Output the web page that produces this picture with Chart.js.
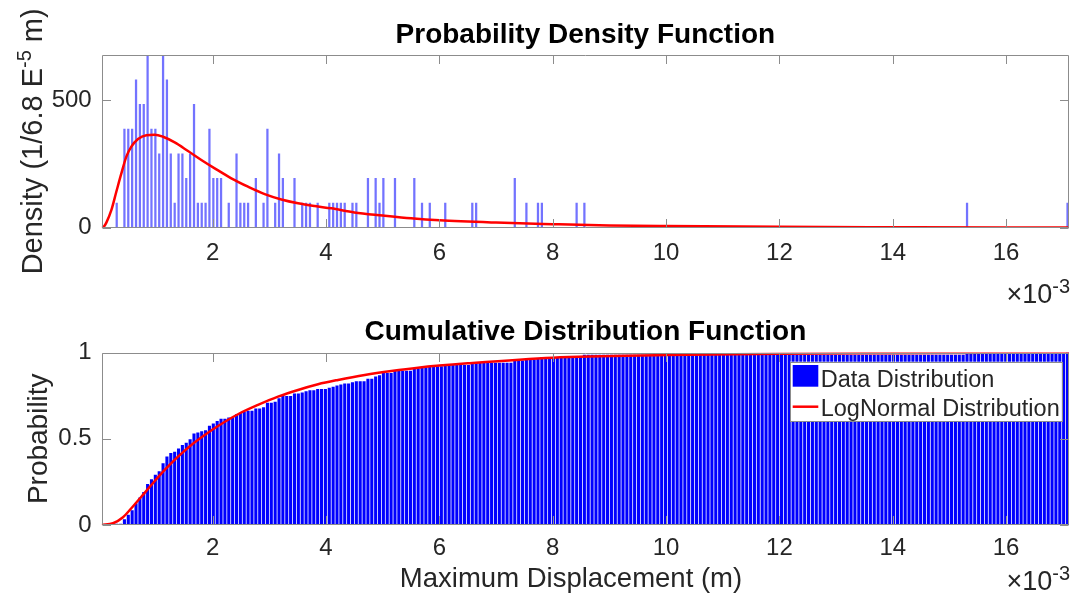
<!DOCTYPE html>
<html><head><meta charset="utf-8">
<script src="https://cdn.jsdelivr.net/npm/chart.js@4.4.1/dist/chart.umd.min.js"></script>
<style>
html,body{margin:0;padding:0;background:#fff;width:1077px;height:606px;overflow:hidden;}
canvas{position:absolute;left:0;}
#pdf{top:0;z-index:2;}
#cdf{top:300px;z-index:1;}
</style></head><body>
<canvas id="pdf" width="1077" height="320"></canvas>
<canvas id="cdf" width="1077" height="306"></canvas>
<script>
// ---------- data (x in units of 1e-3 m) ----------
const xLimits = [0.042, 17.11];
const xTickValues = [2, 4, 6, 8, 10, 12, 14, 16];
const pdfYMax = 678;
const pdfYTicks = [0, 500];
const cdfYTicks = [0, 0.5, 1];

const pdfBarX = [
  0.307,0.443,0.511,0.579,0.648,0.716,0.784,0.852,0.920,0.989,
  1.057,1.125,1.193,1.261,1.330,1.398,1.466,1.534,1.602,1.671,
  1.739,1.807,1.875,1.943,2.012,2.080,2.148,2.284,2.421,2.489,
  2.557,2.625,2.762,2.898,2.966,3.103,3.171,3.239,3.444,3.580,
  3.648,3.717,3.853,4.058,4.126,4.194,4.262,4.330,4.467,4.535,
  4.740,4.876,4.944,5.012,5.217,5.558,5.694,5.831,6.104,6.581,
  6.649,7.331,7.536,7.740,7.809,8.422,8.559,15.311,17.084
];
const pdfDensity = [
  97,387,387,387,581,484,484,678,387,387,
  290,678,581,290,97,290,290,194,290,484,
  97,97,97,387,194,194,194,97,290,97,
  97,97,194,97,387,97,290,194,194,97,
  97,97,97,97,97,97,97,97,97,97,
  194,194,97,194,194,194,97,97,97,97,
  97,194,97,97,97,97,97,97,97
];
const pdfFitX = [0.042,0.08,0.124,0.212,0.300,0.389,0.477,0.565,0.683,0.830,0.977,1.124,1.330,1.565,1.800,2.036,2.329,2.624,2.918,3.212,3.506,3.801,4.094,4.5,5.0,5.5,6.0,7.0,8.0,9.0,10.0,12.0,14.0,16.0,17.11];
const pdfFitY = [0,4,20,69,141,213,279,318,348,363,365,357,335,301,266,233,194,161,132,111,96,85,76,60,48,37,29,20,14,9,6.5,3.5,2,1,0.8];

const cdfBinStart = 0.3065;
const cdfBinWidth = 0.0682;
const cdfValues = [
  0.007,0.007,0.033,0.060,0.086,0.126,0.159,0.192,0.238,0.265,
  0.291,0.311,0.358,0.397,0.417,0.424,0.444,0.464,0.477,0.497,
  0.530,0.536,0.543,0.550,0.576,0.589,0.603,0.616,0.616,0.623,
  0.623,0.642,0.649,0.656,0.662,0.662,0.675,0.675,0.682,0.709,
  0.709,0.715,0.735,0.748,0.748,0.748,0.762,0.762,0.768,0.775,
  0.781,0.781,0.788,0.788,0.788,0.795,0.801,0.808,0.815,0.821,
  0.821,0.828,0.834,0.834,0.834,0.848,0.848,0.861,0.868,0.881,
  0.881,0.881,0.894,0.894,0.894,0.894,0.894,0.907,0.907,0.914,
  0.914,0.921,0.921,0.921,0.921,0.927,0.927,0.927,0.927,0.927,
  0.927,0.927,0.934,0.940,0.940,0.940,0.940,0.940,0.940,0.940,
  0.940,0.940,0.940,0.954,0.954,0.954,0.960,0.960,0.960,0.967,
  0.974,0.974,0.974,0.974,0.974,0.974,0.974,0.974,0.974,0.980,
  0.980,0.987,0.987,0.987,0.987,0.987,0.987,0.987,0.987,0.987,
  0.987,0.987,0.987,0.987,0.987,0.987,0.987,0.987,0.987,0.987,
  0.987,0.987,0.987,0.987,0.987,0.987,0.987,0.987,0.987,0.987,
  0.987,0.987,0.987,0.987,0.987,0.987,0.987,0.987,0.987,0.987,
  0.987,0.987,0.987,0.987,0.987,0.987,0.987,0.987,0.987,0.987,
  0.987,0.987,0.987,0.987,0.987,0.987,0.987,0.987,0.987,0.987,
  0.987,0.987,0.987,0.987,0.987,0.987,0.987,0.987,0.987,0.987,
  0.987,0.987,0.987,0.987,0.987,0.987,0.987,0.987,0.987,0.987,
  0.987,0.987,0.987,0.987,0.987,0.987,0.987,0.987,0.987,0.987,
  0.987,0.987,0.987,0.987,0.987,0.987,0.987,0.987,0.987,0.987,
  0.993,0.993,0.993,0.993,0.993,0.993,0.993,0.993,0.993,0.993,
  0.993,0.993,0.993,0.993,0.993,0.993,0.993,0.993,0.993,0.993,
  0.993,0.993,0.993,0.993,0.993,0.993,1.000
];
const cdfFitX = [0.042,0.242,0.418,0.565,0.741,0.918,1.154,1.389,1.623,1.860,2.095,2.447,2.800,3.153,3.506,3.859,4.212,4.683,5.153,5.624,6.5,8.0,10.0,12.0,14.0,17.11];
const cdfFitY = [0,0.010,0.045,0.097,0.164,0.232,0.319,0.396,0.464,0.522,0.574,0.642,0.696,0.744,0.783,0.816,0.841,0.870,0.893,0.912,0.937,0.970,0.985,0.993,0.996,0.999];

const legendLabels = ['Data Distribution', 'LogNormal Distribution'];

// ---------- styling ----------
const FAM = "'Liberation Sans', Arial, Helvetica, sans-serif";
const TXT = '#262626';
const AXC = '#8c8c8c';

function drawSegments(ctx, segs, align) {
  let total = 0;
  segs.forEach(s => { ctx.font = (s.bold ? 'bold ' : '') + s.size + 'px ' + FAM; s.w = ctx.measureText(s.t).width; total += s.w; });
  let x = align === 'right' ? -total : (align === 'center' ? -total / 2 : 0);
  segs.forEach(s => {
    ctx.font = (s.bold ? 'bold ' : '') + s.size + 'px ' + FAM;
    ctx.fillText(s.t, x, -(s.rise || 0));
    x += s.w;
  });
}

const figPlugin = {
  id: 'fig',
  afterDatasetsDraw(chart, args, o) {
    const {ctx, chartArea: a, scales} = chart;
    ctx.save();
    ctx.strokeStyle = AXC; ctx.lineWidth = 1;
    const L = Math.round(a.left) + 0.5, R = Math.round(a.right) - 0.5;
    const T = Math.round(a.top) + 0.5, B = Math.round(a.bottom) - 0.5;
    ctx.beginPath();
    ctx.rect(L, T, R - L, B - T);
    const tl = 8.5;
    scales.x.ticks.forEach(t => {
      const px = Math.round(scales.x.getPixelForValue(t.value)) + 0.5;
      ctx.moveTo(px, B); ctx.lineTo(px, B - tl);
      ctx.moveTo(px, T); ctx.lineTo(px, T + tl);
    });
    scales.y.ticks.forEach(t => {
      const py = Math.round(scales.y.getPixelForValue(t.value)) + 0.5;
      ctx.moveTo(L, py); ctx.lineTo(L + tl, py);
      ctx.moveTo(R, py); ctx.lineTo(R - tl, py);
    });
    ctx.stroke();
    ctx.restore();
  },
  afterDraw(chart, args, o) {
    const {ctx, chartArea: a} = chart;
    ctx.save();
    ctx.textBaseline = 'alphabetic';
    ctx.fillStyle = '#000';
    ctx.font = 'bold 28px ' + FAM;
    ctx.textAlign = 'center';
    ctx.fillText(o.title, (a.left + a.right) / 2, a.top - o.titleGap);
    ctx.textAlign = 'left';
    ctx.fillStyle = TXT;
    ctx.save();
    ctx.translate(o.yLabelX, (a.top + a.bottom) / 2);
    ctx.rotate(-Math.PI / 2);
    drawSegments(ctx, o.yLabel, 'center');
    ctx.restore();
    if (o.xLabel) {
      ctx.save();
      ctx.translate(o.xLabelX, a.bottom + o.xLabelDy);
      drawSegments(ctx, [{t: o.xLabel, size: 27.5}], 'center');
      ctx.restore();
    }
    ctx.save();
    ctx.translate(a.right + 1, a.bottom + o.expDy);
    drawSegments(ctx, [{t: '\u00d710', size: 27}, {t: '-3', size: 20, rise: 10}], 'right');
    ctx.restore();
    if (o.legend) {
      const lx = a.right - 279, ly = a.top + 9.2, lw = 271.7, lh = 59.3;
      ctx.fillStyle = '#fff';
      ctx.fillRect(lx, ly, lw, lh);
      ctx.strokeStyle = AXC; ctx.lineWidth = 1;
      ctx.strokeRect(Math.round(lx) + 0.5, Math.round(ly) + 0.5, Math.round(lw), Math.round(lh));
      const ds = chart.data.datasets;
      ctx.fillStyle = '#0000ff';
      ctx.fillRect(lx + 2.7, ly + 3.3, 25.6, 21.7);
      ctx.strokeStyle = ds[1].borderColor; ctx.lineWidth = 2.5;
      ctx.beginPath(); ctx.moveTo(lx + 2.7, ly + 45); ctx.lineTo(lx + 28.3, ly + 45); ctx.stroke();
      ctx.fillStyle = TXT;
      ctx.font = '23.5px ' + FAM;
      ctx.fillText(ds[0].label, lx + 30.7, ly + 25);
      ctx.fillText(ds[1].label, lx + 30.7, ly + 54.3);
    }
    ctx.restore();
  }
};

const tickFmt = v => String(v);

function xScale(h, pad) {
  return {
    type: 'linear', min: xLimits[0], max: xLimits[1], offset: false,
    grid: {display: false, drawTicks: false, offset: false}, border: {display: false},
    afterBuildTicks: s => { s.ticks = xTickValues.map(v => ({value: v})); },
    afterFit: s => { s.height = h; },
    ticks: {font: {family: FAM, size: 24}, color: TXT, padding: pad, maxRotation: 0, minRotation: 0, autoSkip: false, callback: tickFmt}
  };
}
function yScale(max, tickVals) {
  return {
    type: 'linear', min: 0, max: max,
    grid: {display: false, drawTicks: false}, border: {display: false},
    afterBuildTicks: s => { s.ticks = tickVals.map(v => ({value: v})); },
    afterFit: s => { s.width = 101.7; },
    ticks: {font: {family: FAM, size: 24}, color: TXT, padding: 10, callback: tickFmt}
  };
}

new Chart(document.getElementById('pdf'), {
  type: 'bar',
  data: {datasets: [
    {type: 'bar', label: legendLabels[0], data: pdfBarX.map((x, i) => ({x: x, y: pdfDensity[i]})),
     backgroundColor: 'rgba(0,0,255,0.55)', borderWidth: 0, barThickness: 1.6, order: 2},
    {type: 'line', label: legendLabels[1], data: pdfFitX.map((x, i) => ({x: x, y: pdfFitY[i]})),
     borderColor: '#ff0000', borderWidth: 2.5, pointRadius: 0, fill: false, cubicInterpolationMode: 'monotone', order: 1}
  ]},
  options: {
    responsive: false, animation: false, devicePixelRatio: 1,
    layout: {padding: {left: 0, top: 55, right: 8, bottom: 0}},
    plugins: {legend: {display: false}, tooltip: {enabled: false},
      fig: {title: 'Probability Density Function', titleGap: 12.3, yLabelX: 41.7,
        yLabel: [{t: 'Density (1/6.8 E', size: 29}, {t: '-5', size: 20, rise: 11}, {t: ' m)', size: 29}],
        expDy: 75.5, legend: false}},
    scales: {x: xScale(92.3, 11), y: yScale(pdfYMax, pdfYTicks)}
  },
  plugins: [figPlugin]
});

new Chart(document.getElementById('cdf'), {
  type: 'bar',
  data: {datasets: [
    {type: 'bar', label: legendLabels[0], data: cdfValues.map((y, k) => ({x: cdfBinStart + k * cdfBinWidth, y: y})),
     backgroundColor: '#0000ff', borderWidth: 0, barPercentage: 0.8, categoryPercentage: 1.0, order: 2},
    {type: 'line', label: legendLabels[1], data: cdfFitX.map((x, i) => ({x: x, y: cdfFitY[i]})),
     borderColor: '#ff0000', borderWidth: 2.5, pointRadius: 0, fill: false, cubicInterpolationMode: 'monotone', order: 1}
  ]},
  options: {
    responsive: false, animation: false, devicePixelRatio: 1,
    layout: {padding: {left: 0, top: 52.5, right: 8, bottom: 0}},
    plugins: {legend: {display: false}, tooltip: {enabled: false},
      fig: {title: 'Cumulative Distribution Function', titleGap: 12.5, yLabelX: 46.7,
        yLabel: [{t: 'Probability', size: 28}],
        xLabel: 'Maximum Displacement (m)', xLabelX: 571, xLabelDy: 62,
        expDy: 65, legend: true}},
    scales: {x: xScale(81, 9), y: yScale(1, cdfYTicks)}
  },
  plugins: [figPlugin]
});
</script>
</body></html>
